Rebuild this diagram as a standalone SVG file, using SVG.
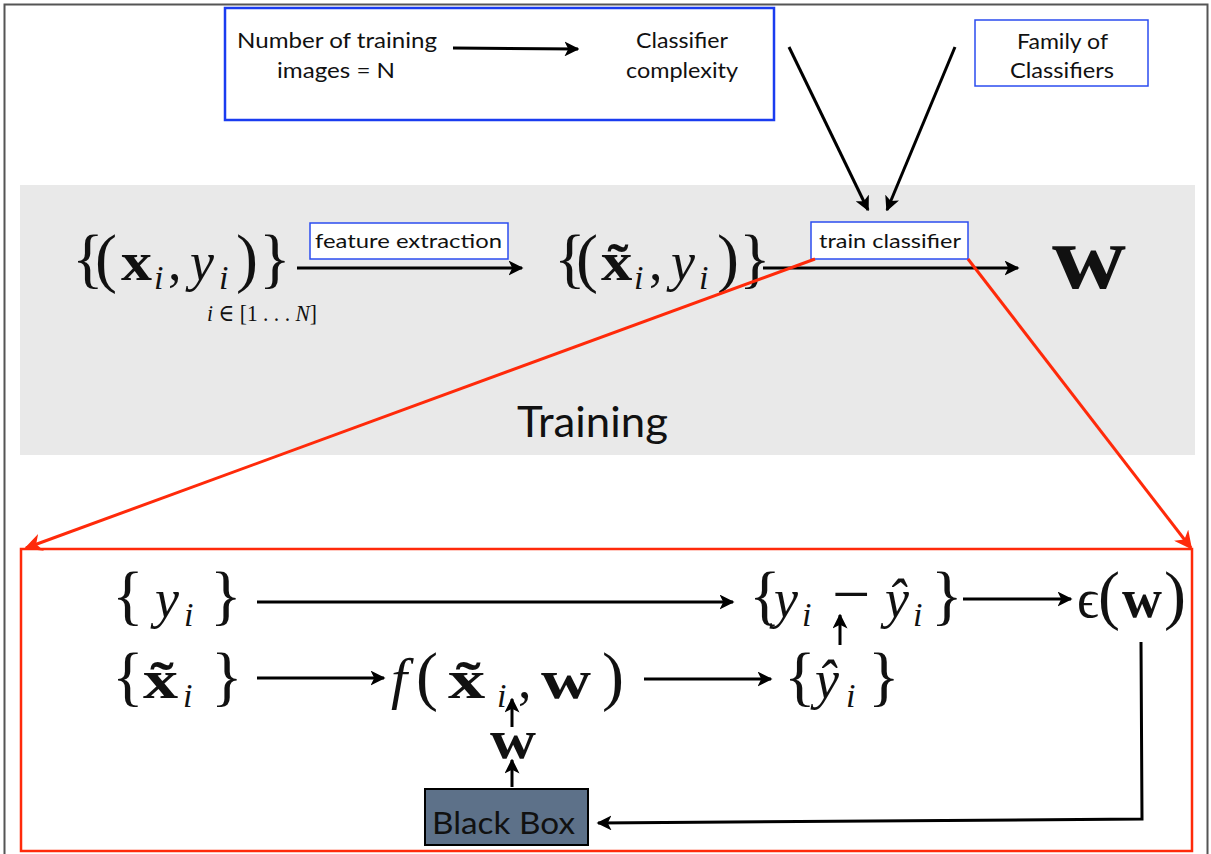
<svg xmlns="http://www.w3.org/2000/svg" width="1211" height="854" viewBox="0 0 1211 854">
<defs>
<style>
.sans{font-family:"Lato","Open Sans","Liberation Sans",sans-serif;fill:#111}
.m{font-family:"Liberation Serif","DejaVu Serif",serif;fill:#111;font-size:54px}
.br{font-size:66px}
.sub{font-size:34px;font-style:italic}
.it{font-style:italic}
.bd{font-weight:bold}
.blue{fill:#fff;stroke:#2b4cf0;stroke-width:1.5}
.ln{stroke:#000;stroke-width:3;fill:none}
</style>
<marker id="ah" viewBox="0 0 10 10" refX="9" refY="5" markerWidth="5" markerHeight="5" orient="auto" markerUnits="strokeWidth">
<path d="M0,0 L10,5 L0,10 L2.5,5 Z" fill="#000"/>
</marker>
<marker id="rh" viewBox="0 0 10 10" refX="9" refY="5" markerWidth="6" markerHeight="6" orient="auto" markerUnits="strokeWidth">
<path d="M0,0 L10,5 L0,10 L3,5 Z" fill="#ff2a0a"/>
</marker>
</defs>
<rect width="1211" height="854" fill="#fff"/>
<rect x="4.5" y="4.5" width="1203" height="855" fill="none" stroke="#555" stroke-width="2"/>

<g id="training-panel">
<rect x="20" y="185" width="1175" height="270" fill="#e9e9e9"/>
<text class="sans" x="517" y="437" font-size="42" textLength="151" lengthAdjust="spacingAndGlyphs">Training</text>
</g>

<g id="complexity-box">
<rect x="225" y="8" width="549" height="112" fill="#fff" stroke="#1a3cf0" stroke-width="2.5"/>
<text class="sans" x="237" y="48" font-size="22" textLength="200" lengthAdjust="spacingAndGlyphs">Number of training</text>
<text class="sans" x="277" y="78" font-size="22" textLength="118" lengthAdjust="spacingAndGlyphs">images = N</text>
<text class="sans" x="636" y="48" font-size="22" textLength="92" lengthAdjust="spacingAndGlyphs">Classifier</text>
<text class="sans" x="626" y="78" font-size="22" textLength="112" lengthAdjust="spacingAndGlyphs">complexity</text>
</g>

<g id="family-box">
<rect x="975" y="20" width="173" height="66" class="blue"/>
<text class="sans" x="1017" y="49" font-size="22" textLength="91" lengthAdjust="spacingAndGlyphs">Family of</text>
<text class="sans" x="1010" y="78" font-size="22" textLength="104" lengthAdjust="spacingAndGlyphs">Classifiers</text>
</g>

<g id="data-set">
<text class="m" y="280"><tspan class="br" x="72">{</tspan><tspan class="br" x="95">(</tspan></text>
<text class="m bd" x="121" y="280" textLength="31" lengthAdjust="spacingAndGlyphs">x</text>
<text class="m" y="280"><tspan class="sub" x="154" y="289">i</tspan><tspan x="168" y="280">,</tspan><tspan class="it" x="190">y</tspan><tspan class="sub" x="219" y="289">i</tspan><tspan class="br" x="236" y="280">)</tspan><tspan class="br" x="259">}</tspan></text>
<text class="m" x="207" y="321" style="font-size:24px" textLength="110" lengthAdjust="spacingAndGlyphs"><tspan class="it">i</tspan> ∈ [1 . . . <tspan class="it">N</tspan>]</text>
</g>

<g id="feature-extraction">
<rect x="310" y="223" width="198" height="36" class="blue"/>
<text class="sans" x="315" y="248" font-size="20" textLength="187" lengthAdjust="spacingAndGlyphs">feature extraction</text>
</g>

<g id="features">
<text class="m" y="280"><tspan class="br" x="554">{</tspan><tspan class="br" x="576">(</tspan></text>
<text class="m bd" transform="translate(601,280) scale(1.16,1)">x̃</text>
<text class="m" y="280"><tspan class="sub" x="634" y="289">i</tspan><tspan x="649" y="280">,</tspan><tspan class="it" x="671">y</tspan><tspan class="sub" x="699" y="289">i</tspan><tspan class="br" x="717" y="280">)</tspan><tspan class="br" x="739">}</tspan></text>
</g>

<g id="train-classifier">
<rect x="811" y="222" width="157" height="37" class="blue"/>
<text class="sans" x="819" y="248" font-size="20" textLength="142" lengthAdjust="spacingAndGlyphs">train classifier</text>
</g>

<g id="weights">
<text class="m bd" x="1052" y="288" style="font-size:92px" textLength="74" lengthAdjust="spacingAndGlyphs">w</text>
</g>

<g id="y-set">
<text class="m" y="617"><tspan class="br" x="112">{</tspan><tspan class="it" x="155">y</tspan><tspan class="sub" x="184" y="626">i</tspan><tspan class="br" x="210" y="617">}</tspan></text>
</g>

<g id="x-set">
<text class="m br" x="112" y="698">{</text>
<text class="m bd" transform="translate(143,698) scale(1.3,1)">x̃</text>
<text class="m" y="698"><tspan class="sub" x="183" y="707">i</tspan><tspan class="br" x="211" y="698">}</tspan></text>
</g>

<g id="f-func">
<text class="m" y="698"><tspan class="it" x="391" style="font-size:58px">f</tspan><tspan class="br" x="416">(</tspan></text>
<text class="m bd" transform="translate(448,698) scale(1.38,1)">x̃</text>
<text class="m" y="698"><tspan class="sub" x="497" y="707">i</tspan><tspan x="518" y="698">,</tspan></text>
<text class="m bd" x="541" y="698" textLength="50" lengthAdjust="spacingAndGlyphs">w</text>
<text class="m br" x="602" y="698">)</text>
</g>

<g id="yhat-set">
<text class="m" y="698"><tspan class="br" x="784">{</tspan><tspan class="it" x="815">ŷ</tspan><tspan class="sub" x="846" y="707">i</tspan><tspan class="br" x="868" y="698">}</tspan></text>
</g>

<g id="residual">
<text class="m" y="617"><tspan class="br" x="749">{</tspan><tspan class="it" x="774">y</tspan><tspan class="sub" x="802" y="626">i</tspan></text>
<text class="m" x="832" y="617" style="font-size:68px">−</text>
<text class="m" y="617"><tspan class="it" x="885">ŷ</tspan><tspan class="sub" x="913" y="626">i</tspan><tspan class="br" x="931" y="617">}</tspan></text>
</g>

<g id="error">
<text class="m" y="617"><tspan x="1077">ϵ</tspan><tspan class="br" x="1098">(</tspan></text>
<text class="m bd" x="1122" y="617" textLength="40" lengthAdjust="spacingAndGlyphs">w</text>
<text class="m br" x="1164" y="617">)</text>
</g>

<g id="w-small">
<text class="m bd" x="490" y="758" textLength="46" lengthAdjust="spacingAndGlyphs">w</text>
</g>

<g id="black-box">
<rect x="425" y="789" width="163" height="56" fill="#5d7189" stroke="#000" stroke-width="2"/>
<text class="sans" x="432" y="834" font-size="31" textLength="143" lengthAdjust="spacingAndGlyphs" fill="#000">Black Box</text>
</g>

<g id="zoom-box">
<rect x="21" y="549" width="1171" height="302" fill="none" stroke="#ff2a0a" stroke-width="2.5"/>
</g>

<g id="connectors">
<line class="ln" x1="453" y1="48" x2="578" y2="49" stroke-width="4.5" marker-end="url(#ah)"/>
<line class="ln" x1="789" y1="47" x2="868" y2="210" marker-end="url(#ah)"/>
<line class="ln" x1="955" y1="47" x2="887" y2="210" marker-end="url(#ah)"/>
<line class="ln" x1="297" y1="268" x2="522" y2="268" stroke-width="4" marker-end="url(#ah)"/>
<line class="ln" x1="763" y1="268" x2="1018" y2="268" stroke-width="4" marker-end="url(#ah)"/>
<line x1="815" y1="259" x2="26" y2="548" stroke="#ff2a0a" stroke-width="3" marker-end="url(#rh)"/>
<line x1="968" y1="259" x2="1191" y2="548" stroke="#ff2a0a" stroke-width="3" marker-end="url(#rh)"/>
<line class="ln" x1="257" y1="602" x2="733" y2="602" marker-end="url(#ah)"/>
<line class="ln" x1="963" y1="599" x2="1071" y2="599" marker-end="url(#ah)"/>
<line class="ln" x1="257" y1="678" x2="384" y2="678" marker-end="url(#ah)"/>
<line class="ln" x1="644" y1="679" x2="771" y2="679" marker-end="url(#ah)"/>
<line class="ln" x1="840" y1="645" x2="840" y2="615" marker-end="url(#ah)"/>
<line class="ln" x1="512" y1="727" x2="512" y2="699" marker-end="url(#ah)"/>
<line class="ln" x1="512" y1="787" x2="512" y2="760" marker-end="url(#ah)"/>
<polyline class="ln" points="1141,642 1142,819 598,823" marker-end="url(#ah)"/>
</g>
</svg>
